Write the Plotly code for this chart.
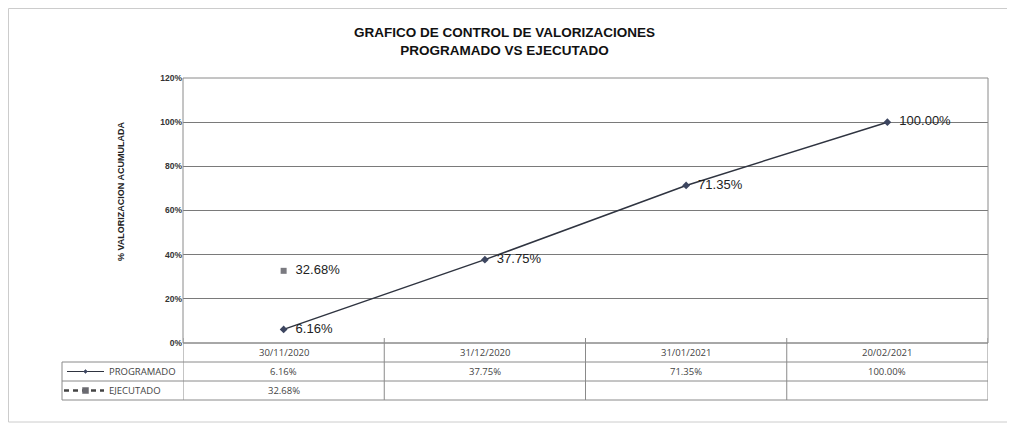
import plotly.graph_objects as go

fechas = ["30/11/2020", "31/12/2020", "31/01/2021", "20/02/2021"]
programado = [6.16, 37.75, 71.35, 100.00]
ejecutado = [32.68, None, None, None]
y_ticks = [0, 20, 40, 60, 80, 100, 120]
titulo = "GRAFICO DE CONTROL DE VALORIZACIONES<br>PROGRAMADO VS EJECUTADO"
y_titulo = "% VALORIZACION ACUMULADA"

# page body has an 8px margin; work in reference pixels and shift
O = 8
W, H = 1015 - O, 428 - O
L, R, T, B = 183, 988, 78, 343
pw, ph = R - L, B - T


def px(x):
    return (x - L) / pw


def py(y):
    return (B - y) / ph


fmt = lambda v: f"{v:.2f}%"
lab = lambda v: "\u00a0\u00a0" + fmt(v)
line_col = "#2f3440"
grid_col = "#7a7a7a"
tbl_col = "#8a8a8a"

fig = go.Figure()
fig.add_trace(go.Scatter(
    x=fechas, y=programado, mode="lines+markers+text", name="PROGRAMADO",
    line=dict(color=line_col, width=1.5),
    marker=dict(symbol="diamond", size=6, color="#3d4660"),
    text=[lab(v) for v in programado],
    textposition="middle right",
    textfont=dict(family="Liberation Sans", size=13, color="#222"),
    cliponaxis=False, showlegend=False,
))
fig.add_trace(go.Scatter(
    x=fechas, y=ejecutado, mode="markers+text", name="EJECUTADO",
    marker=dict(symbol="square", size=6, color="#7a7a80"),
    text=[lab(v) if v is not None else "" for v in ejecutado],
    textposition="middle right",
    textfont=dict(family="Liberation Sans", size=13, color="#222"),
    cliponaxis=False, showlegend=False,
))

shapes = []
# outer border
shapes.append(dict(type="rect", xref="paper", yref="paper",
                   x0=px(8.5), x1=px(1008), y0=py(422), y1=py(8.5),
                   line=dict(color="#cccccc", width=1)))
# plot area border
shapes.append(dict(type="rect", xref="paper", yref="paper",
                   x0=0, x1=1, y0=0, y1=1, line=dict(color="#8a8a8a", width=1)))
# table horizontal lines
rows = [343, 362, 381, 400]
for i, r in enumerate(rows):
    x0 = 0 if i == 0 else px(62)
    shapes.append(dict(type="line", xref="paper", yref="paper",
                       x0=x0, x1=1, y0=py(r), y1=py(r),
                       line=dict(color=tbl_col, width=1)))
# table vertical lines
for xv in [-0.5, 0.5, 1.5, 2.5, 3.5]:
    shapes.append(dict(type="line", xref="x", yref="paper",
                       x0=xv, x1=xv, y0=py(400), y1=py(338),
                       line=dict(color=tbl_col, width=1)))
shapes.append(dict(type="line", xref="paper", yref="paper",
                   x0=px(62), x1=px(62), y0=py(400), y1=py(362),
                   line=dict(color=tbl_col, width=1)))
# legend keys
shapes.append(dict(type="line", xref="paper", yref="paper",
                   x0=px(67), x1=px(104), y0=py(371.5), y1=py(371.5),
                   line=dict(color=line_col, width=1.2)))
shapes.append(dict(type="path", xref="paper", yref="paper",
                   path=f"M {px(85.5)} {py(369.5)} L {px(87.5)} {py(371.5)} L {px(85.5)} {py(373.5)} L {px(83.5)} {py(371.5)} Z",
                   fillcolor="#3d4660", line=dict(color="#3d4660", width=0.5)))
shapes.append(dict(type="line", xref="paper", yref="paper",
                   x0=px(64), x1=px(104), y0=py(390.5), y1=py(390.5),
                   line=dict(color="#444", width=2.5, dash="5px,4px")))
shapes.append(dict(type="rect", xref="paper", yref="paper",
                   x0=px(82.5), x1=px(88.5), y0=py(393.5), y1=py(387.5),
                   fillcolor="#6a6a70", line=dict(color="#6a6a70", width=0.5)))

ann = []
tf = dict(family="Open Sans", size=9.5, color="#444")


def add(x, y, text, xref="paper", xa="center", font=tf, **kw):
    ann.append(dict(x=x, y=y, xref=xref, yref="paper", text=text, showarrow=False,
                    xanchor=xa, yanchor="middle", font=font, **kw))


for f in fechas:
    add(f, py(352.5), f, xref="x")
for f, v in zip(fechas, programado):
    add(f, py(371.5), fmt(v), xref="x")
for f, v in zip(fechas, ejecutado):
    if v is not None:
        add(f, py(390.5), fmt(v), xref="x")
add(px(107), py(371.5), "PROGRAMADO", xa="left")
add(px(107), py(390.5), "EJECUTADO", xa="left")
add(px(121), py(192), y_titulo, textangle=-90,
    font=dict(family="Liberation Sans Narrow, Liberation Sans", size=9, color="#222", weight="bold"))
add(px(504), py(41), titulo, align="center",
    font=dict(family="Liberation Sans", size=13.5, color="#111", weight="bold"))

fig.update_layout(
    width=W, height=H, margin=dict(l=L - O, r=(W + O) - R, t=T - O, b=(H + O) - B),
    paper_bgcolor="white", plot_bgcolor="white",
    xaxis=dict(type="category", range=[-0.5, 3.5], showticklabels=False,
               showgrid=False, zeroline=False, showline=False, fixedrange=True),
    yaxis=dict(range=[0, 120], tickvals=y_ticks, ticktext=[f"{t}%" for t in y_ticks],
               showgrid=True, gridcolor=grid_col, gridwidth=1, zeroline=False,
               ticks="", ticklen=0,
               tickfont=dict(family="Liberation Sans Narrow, Liberation Sans", size=8.5, color="#333", weight="bold")),
    shapes=shapes, annotations=ann,
)
fig.write_html("out.html")
